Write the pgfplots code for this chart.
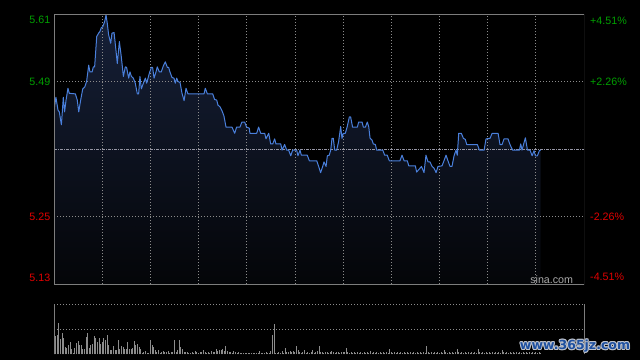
\documentclass[border=0pt]{standalone}
\usepackage{pgfplots}
\pgfplotsset{compat=1.18}
\usepackage{pgfplotstable}
\usepackage{fontspec}
\setmainfont{Liberation Sans}
\newfontfamily\wmfont{DejaVu Sans}
\definecolor{linecol}{RGB}{74,128,220}
\definecolor{bordercol}{RGB}{125,125,125}
\definecolor{gridcol}{RGB}{140,140,140}
\definecolor{pccol}{RGB}{150,150,165}
\definecolor{upcol}{RGB}{0,160,0}
\definecolor{dncol}{RGB}{225,0,0}
\definecolor{fillTop}{RGB}{22,32,56}
\definecolor{fillBot}{RGB}{4,5,8}
\definecolor{volcol}{RGB}{140,140,140}
\definecolor{sinacol}{RGB}{170,170,170}
\definecolor{wmblue}{RGB}{30,80,160}
\definecolor{wmout}{RGB}{190,195,205}
\newcommand\lbl{\fontsize{10.7}{12}\selectfont}
\newcommand\wm{\wmfont\bfseries\fontsize{12.5}{14}\selectfont www.365jz.com}

\pgfplotstableread{
m p
0 5.439
1.2 5.462
2.5 5.439
3.3 5.436
4.6 5.413
5.8 5.462
6.6 5.436
7.5 5.457
8.7 5.478
9.5 5.469
13.3 5.468
14.5 5.457
15.4 5.436
16.6 5.457
17.9 5.477
19.1 5.480
20.3 5.490
21.6 5.519
22.4 5.507
23.7 5.507
24.5 5.516
25.3 5.516
26.6 5.570
27.8 5.576
28.6 5.579
29.5 5.586
30.3 5.587
31.5 5.596
32.4 5.608
33.2 5.593
34.0 5.573
35.3 5.558
36.1 5.576
37.4 5.577
38.6 5.545
39.4 5.522
40.7 5.561
41.9 5.534
43.2 5.499
44.4 5.516
45.2 5.515
46.5 5.496
47.3 5.507
48.2 5.499
49.4 5.496
50.6 5.487
51.9 5.468
52.7 5.468
53.5 5.499
54.4 5.477
56.0 5.490
56.9 5.496
57.7 5.487
59.4 5.505
60.6 5.515
61.4 5.515
62.3 5.496
63.5 5.507
64.3 5.516
65.6 5.507
66.8 5.507
68.1 5.518
69.3 5.525
70.6 5.515
71.4 5.515
72.2 5.507
73.5 5.497
74.7 5.496
75.5 5.487
76.4 5.496
77.2 5.490
78.5 5.488
79.7 5.469
81.0 5.456
82.2 5.478
83.4 5.468
93.4 5.468
94.2 5.478
95.5 5.468
98.8 5.468
100.0 5.458
101.3 5.457
102.1 5.448
103.4 5.445
104.6 5.438
105.8 5.429
107.1 5.409
110.8 5.409
112.5 5.398
113.7 5.409
115.8 5.409
117.0 5.418
118.7 5.418
119.9 5.409
121.6 5.407
122.0 5.398
126.2 5.398
127.4 5.409
128.7 5.398
131.2 5.398
132.0 5.388
133.7 5.398
134.9 5.379
136.2 5.379
137.4 5.388
138.2 5.379
141.2 5.379
142.0 5.368
143.6 5.378
144.9 5.368
146.1 5.368
147.4 5.358
148.6 5.368
151.1 5.368
151.9 5.358
153.2 5.368
154.0 5.359
157.7 5.359
159.0 5.349
163.6 5.349
164.8 5.339
166.0 5.328
167.3 5.339
168.1 5.347
169.4 5.339
170.2 5.358
171.4 5.359
172.3 5.368
173.1 5.389
173.9 5.389
174.8 5.368
176.0 5.368
177.2 5.383
178.5 5.410
179.3 5.389
180.1 5.398
181.4 5.398
182.6 5.410
183.9 5.427
184.7 5.427
185.9 5.409
188.9 5.409
189.7 5.418
191.8 5.418
192.6 5.409
193.9 5.409
195.1 5.418
196.0 5.409
196.8 5.389
198.0 5.386
198.8 5.379
200.1 5.378
200.9 5.368
204.7 5.368
205.9 5.359
207.5 5.359
208.8 5.349
215.4 5.349
216.7 5.359
218.0 5.349
220.0 5.349
220.9 5.340
225.0 5.340
225.8 5.329
228.8 5.339
230.4 5.328
231.6 5.359
232.9 5.347
234.1 5.347
235.4 5.339
236.6 5.336
237.9 5.328
239.1 5.339
241.6 5.340
242.8 5.349
244.1 5.359
245.3 5.349
246.6 5.339
247.8 5.339
249.1 5.358
250.3 5.368
251.1 5.359
252.0 5.398
253.6 5.398
254.9 5.389
256.1 5.387
257.0 5.378
263.6 5.378
264.9 5.368
267.8 5.368
269.0 5.388
271.5 5.389
272.8 5.398
276.5 5.398
277.7 5.378
279.0 5.378
280.2 5.388
282.7 5.388
283.9 5.378
285.6 5.368
289.8 5.368
290.6 5.379
291.4 5.368
293.5 5.390
294.8 5.368
296.4 5.368
297.7 5.358
298.9 5.367
299.7 5.358
301.0 5.358
302.2 5.367
303.0 5.368
}\pricedata

\pgfplotstableread[row sep=\\]{
m v\\
0 1.0\\ 1 .37\\ 2 .39\\ 3 .63\\ 4 .30\\ 5 .43\\ 6 .33\\ 7 .15\\ 8 .13\\ 9 .18\\
10 .25\\ 11 .10\\ 12 .02\\ 13 .13\\ 14 .22\\ 15 .27\\ 16 .19\\ 17 .19\\ 18 .10\\ 19 .10\\
20 .35\\ 21 .43\\ 22 .13\\ 23 .19\\ 24 .21\\ 25 .37\\ 26 .33\\ 27 .25\\ 28 .33\\ 29 .21\\
30 .25\\ 31 .33\\ 32 .29\\ 33 .39\\ 34 .19\\ 35 .09\\ 36 .09\\ 37 .17\\ 38 .09\\ 39 .09\\
40 .29\\ 41 .11\\ 42 .17\\ 43 .15\\ 44 .11\\ 45 .11\\ 46 .25\\ 47 .11\\ 48 .11\\ 49 .13\\
50 .27\\ 51 .19\\ 52 .21\\ 53 .15\\ 54 .11\\ 55 .03\\ 56 .05\\ 57 .07\\ 58 .02\\ 59 .03\\
60 .29\\ 61 .19\\ 62 .15\\ 63 .09\\ 64 .05\\ 65 .09\\ 66 .03\\ 67 .05\\ 68 .07\\ 69 .05\\
70 .05\\ 71 .07\\ 72 .03\\ 73 .05\\ 74 .05\\ 75 .29\\ 76 .05\\ 77 .09\\ 78 .29\\ 79 .15\\
80 .11\\ 81 .05\\ 82 .05\\ 83 .05\\ 84 .03\\ 85 .03\\ 86 .05\\ 87 .03\\ 88 .07\\ 89 .05\\
90 .03\\ 91 .04\\ 92 .05\\ 93 .09\\ 94 .04\\ 95 .03\\ 96 .05\\ 97 .03\\ 98 .06\\ 99 .04\\
100 .05\\ 101 .10\\ 102 .06\\ 103 .09\\ 104 .08\\ 105 .11\\ 106 .07\\ 107 .17\\ 108 .06\\ 109 .05\\
110 .04\\ 111 .03\\ 112 .06\\ 113 .04\\ 114 .03\\ 115 .05\\ 116 .03\\ 117 .02\\ 118 .03\\ 119 .02\\
120 .03\\ 121 .02\\ 122 .03\\ 123 .02\\ 124 .03\\ 125 .02\\ 126 .03\\ 127 .02\\ 128 .06\\ 129 .03\\
130 .02\\ 131 .03\\ 132 .04\\ 133 .02\\ 134 .03\\ 135 .06\\ 136 .39\\ 137 .61\\ 138 .03\\ 139 .02\\
140 .04\\ 141 .03\\ 142 .06\\ 143 .03\\ 144 .13\\ 145 .04\\ 146 .05\\ 147 .06\\ 148 .04\\ 149 .06\\
150 .05\\ 151 .17\\ 152 .08\\ 153 .04\\ 154 .03\\ 155 .04\\ 156 .09\\ 157 .03\\ 158 .04\\ 159 .03\\
160 .04\\ 161 .09\\ 162 .03\\ 163 .04\\ 164 .06\\ 165 .17\\ 166 .04\\ 167 .05\\ 168 .03\\ 169 .05\\
170 .04\\ 171 .03\\ 172 .05\\ 173 .07\\ 174 .04\\ 175 .03\\ 176 .05\\ 177 .04\\ 178 .03\\ 179 .05\\
180 .04\\ 181 .05\\ 182 .12\\ 183 .04\\ 184 .03\\ 185 .05\\ 186 .03\\ 187 .04\\ 188 .03\\ 189 .05\\
190 .03\\ 191 .04\\ 192 .02\\ 193 .04\\ 194 .03\\ 195 .05\\ 196 .03\\ 197 .07\\ 198 .03\\ 199 .04\\
200 .03\\ 201 .05\\ 202 .03\\ 203 .04\\ 204 .02\\ 205 .04\\ 206 .03\\ 207 .05\\ 208 .03\\ 209 .10\\
210 .04\\ 211 .03\\ 212 .05\\ 213 .03\\ 214 .04\\ 215 .03\\ 216 .05\\ 217 .03\\ 218 .04\\ 219 .02\\
220 .04\\ 221 .03\\ 222 .05\\ 223 .03\\ 224 .04\\ 225 .03\\ 226 .05\\ 227 .03\\ 228 .04\\ 229 .02\\
230 .04\\ 231 .03\\ 232 .17\\ 233 .04\\ 234 .03\\ 235 .05\\ 236 .03\\ 237 .04\\ 238 .02\\ 239 .04\\
240 .03\\ 241 .05\\ 242 .03\\ 243 .09\\ 244 .04\\ 245 .03\\ 246 .05\\ 247 .03\\ 248 .04\\ 249 .03\\
250 .05\\ 251 .11\\ 252 .04\\ 253 .03\\ 254 .05\\ 255 .03\\ 256 .04\\ 257 .02\\ 258 .04\\ 259 .03\\
260 .05\\ 261 .03\\ 262 .04\\ 263 .03\\ 264 .11\\ 265 .04\\ 266 .03\\ 267 .05\\ 268 .03\\ 269 .04\\
270 .02\\ 271 .04\\ 272 .03\\ 273 .05\\ 274 .03\\ 275 .04\\ 276 .03\\ 277 .05\\ 278 .03\\ 279 .09\\
280 .04\\ 281 .03\\ 282 .05\\ 283 .03\\ 284 .04\\ 285 .02\\ 286 .04\\ 287 .03\\ 288 .05\\ 289 .03\\
290 .04\\ 291 .03\\ 292 .05\\ 293 .03\\ 294 .04\\ 295 .02\\ 296 .04\\ 297 .03\\ 298 .05\\ 299 .03\\
300 .04\\ 301 .03\\ 302 .05\\ 303 .03\\
}\voldata

\begin{document}
\begin{tikzpicture}
\fill[black] (0pt,0pt) rectangle (640pt,360pt);
\useasboundingbox (0pt,0pt) rectangle (640pt,360pt);

% ---------- price panel ----------
\begin{axis}[at={(54pt,76pt)}, anchor=south west, scale only axis,
  width=530pt, height=270pt,
  xmin=0, xmax=330, ymin=5.13, ymax=5.61,
  axis line style={draw=none}, ticks=none, clip=true]
  \addplot[draw=none, top color=fillTop, bottom color=fillBot]
    table[x=m,y=p]{\pricedata} \closedcycle;
  \pgfplotsinvokeforeach{30,60,90,120,150,180,210,240,270,300}{
    \draw[gridcol, line width=0.7pt, dash pattern=on 1pt off 2pt]
      (axis cs:#1,5.13) -- (axis cs:#1,5.61);}
  \draw[gridcol, line width=0.7pt, dash pattern=on 1pt off 2pt]
    (axis cs:0,5.49) -- (axis cs:330,5.49);
  \draw[gridcol, line width=0.7pt, dash pattern=on 1pt off 2pt]
    (axis cs:0,5.25) -- (axis cs:330,5.25);
  \draw[pccol, line width=0.8pt, dash pattern=on 3pt off 1pt on 1pt off 1pt]
    (axis cs:0,5.37) -- (axis cs:330,5.37);
  \addplot[linecol, line width=1pt, line join=round, mark=none]
    table[x=m,y=p]{\pricedata};
  \draw[bordercol, line width=0.9pt] (rel axis cs:0,0) rectangle (rel axis cs:1,1);
\end{axis}

% ---------- volume panel ----------
\begin{axis}[at={(54pt,5.7pt)}, anchor=south west, scale only axis,
  width=530pt, height=50pt,
  xmin=0, xmax=330, ymin=0, ymax=1,
  axis line style={draw=none}, ticks=none, clip=false]
  \draw[gridcol, line width=0.7pt, dash pattern=on 1pt off 2pt]
    (rel axis cs:0,1) -- (rel axis cs:1,1);
  \draw[gridcol, line width=0.7pt, dash pattern=on 1pt off 2pt]
    (rel axis cs:0,0.5) -- (rel axis cs:1,0.5);
  \addplot[ycomb, volcol, line width=0.9pt, mark=none] table[x=m,y=v]{\voldata};
  \draw[bordercol, line width=0.9pt] (rel axis cs:0,0) -- (rel axis cs:0,1);
  \draw[bordercol, line width=0.9pt] (rel axis cs:1,0) -- (rel axis cs:1,1);
\end{axis}

% ---------- labels ----------
\node[anchor=east, inner sep=0pt, text=upcol, font=\lbl] at (50.5pt,340pt) {5.61};
\node[anchor=east, inner sep=0pt, text=upcol, font=\lbl] at (50.5pt,278pt) {5.49};
\node[anchor=east, inner sep=0pt, text=dncol, font=\lbl] at (50.5pt,143.3pt) {5.25};
\node[anchor=east, inner sep=0pt, text=dncol, font=\lbl] at (50.5pt,82pt) {5.13};
\node[anchor=west, inner sep=0pt, text=upcol, font=\lbl] at (590pt,339pt) {+4.51\%};
\node[anchor=west, inner sep=0pt, text=upcol, font=\lbl] at (590pt,278.3pt) {+2.26\%};
\node[anchor=west, inner sep=0pt, text=dncol, font=\lbl] at (590pt,143pt) {-2.26\%};
\node[anchor=west, inner sep=0pt, text=dncol, font=\lbl] at (590pt,82.7pt) {-4.51\%};
\node[anchor=base east, inner sep=0pt, text=sinacol, font=\lbl] at (573.3pt,77pt) {sina.com};

% ---------- watermark ----------
\foreach \dx/\dy in {-1/0,1/0,0/-1,0/1,-0.7/-0.7,0.7/0.7,-0.7/0.7,0.7/-0.7}{
  \node[inner sep=0pt, text=wmout] at ([shift={(\dx pt,\dy pt)}]575pt,14pt) {\wm};}
\node[inner sep=0pt, text=wmblue] at (575pt,14pt) {\wm};
\end{tikzpicture}
\end{document}
